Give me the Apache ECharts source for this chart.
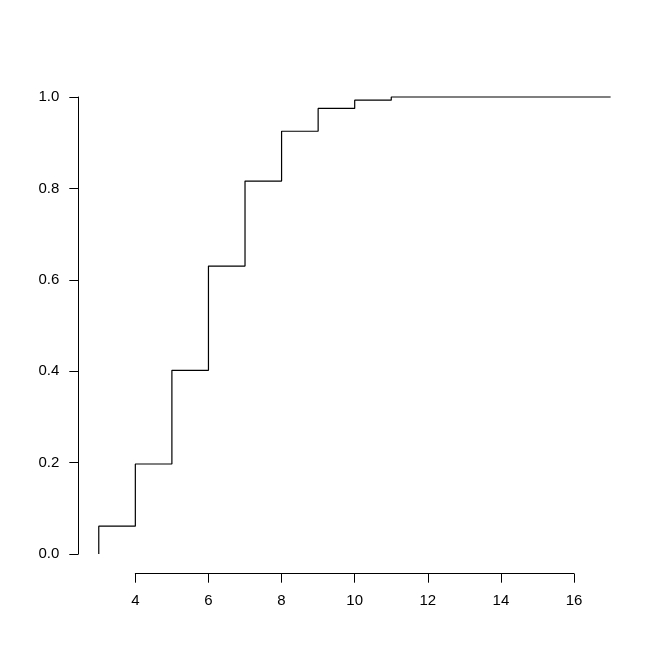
<!DOCTYPE html>
<html>
<head>
<meta charset="utf-8">
<script src="https://cdn.jsdelivr.net/npm/echarts@6/dist/echarts.min.js"></script>
<style>
html,body{margin:0;padding:0;background:#fff;}
#chart{width:672px;height:671px;}
</style>
</head>
<body>
<div id="chart"></div>
<script>
// ECDF step points (x, cumulative proportion)
const stepX = [3, 4, 5, 6, 7, 8, 9, 10, 11, 17];
const stepY = [0.061, 0.197, 0.402, 0.630, 0.816, 0.925, 0.975, 0.993, 1.0, 1.0];
const startPoint = [3, 0];
const xTicks = [4, 6, 8, 10, 12, 14, 16];
const yTicks = [0, 0.2, 0.4, 0.6, 0.8, 1.0];

const data = [startPoint].concat(stepX.map((x, i) => [x, stepY[i]]));

const chart = echarts.init(document.getElementById('chart'), null, {renderer: 'canvas'});
const font = {fontFamily: 'Arial, "Liberation Sans", sans-serif', fontSize: 15, color: '#000'};

chart.setOption({
  backgroundColor: '#fff',
  animation: false,
  grid: [
    {left: 78.3, width: 552.8, top: 78.7, height: 493.6},   // data region
    {left: 135.3, width: 438.7, top: 78.7, height: 495},    // x axis
    {left: 78.3, width: 552.8, top: 97, height: 457}         // y axis
  ],
  xAxis: [
    {gridIndex: 0, type: 'value', min: 2.44, max: 17.56, show: false},
    {gridIndex: 1, type: 'value', min: 4, max: 16, interval: 2, position: 'bottom',
     axisLine: {show: true, lineStyle: {color: '#000', width: 1}},
     axisTick: {show: true, length: 9, lineStyle: {color: '#000'}},
     axisLabel: Object.assign({margin: 20, showMinLabel: true, showMaxLabel: true,
       customValues: xTicks}, font),
     splitLine: {show: false}},
    {gridIndex: 2, type: 'value', min: 2.44, max: 17.56, show: false}
  ],
  yAxis: [
    {gridIndex: 0, type: 'value', min: -0.04, max: 1.04, show: false},
    {gridIndex: 1, type: 'value', min: 0, max: 1, show: false},
    {gridIndex: 2, type: 'value', min: 0, max: 1, interval: 0.2, position: 'left',
     axisLine: {show: true, lineStyle: {color: '#000', width: 1}},
     axisTick: {show: true, length: 9, lineStyle: {color: '#000'}},
     axisLabel: Object.assign({margin: 19, customValues: yTicks,
       formatter: v => v.toFixed(1)}, font),
     splitLine: {show: false}}
  ],
  series: [{
    type: 'line',
    xAxisIndex: 0, yAxisIndex: 0,
    step: 'end',
    data: data,
    symbol: 'none',
    clip: false,
    lineStyle: {color: '#000', width: 1.2}
  }]
});
</script>
</body>
</html>
